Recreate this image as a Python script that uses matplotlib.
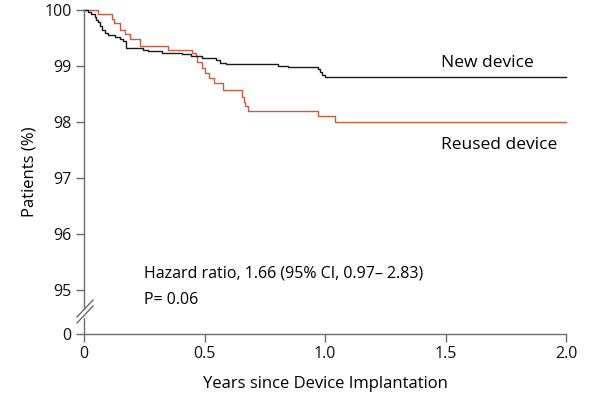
import matplotlib
matplotlib.use("Agg")
import matplotlib.pyplot as plt

# step times (years) and survival (%) after each step
new_t = [0, 0.017, 0.03, 0.046, 0.05, 0.058, 0.065, 0.075, 0.087, 0.10,
         0.129, 0.15, 0.16, 0.174, 0.245, 0.266, 0.324, 0.405, 0.446, 0.49,
         0.549, 0.566, 0.588, 0.806, 0.848, 0.972, 0.98, 0.988, 1.0, 2.0]
new_s = [100, 99.96, 99.93, 99.88, 99.83, 99.78, 99.72, 99.65, 99.59, 99.55,
         99.52, 99.48, 99.44, 99.33, 99.29, 99.26, 99.23, 99.21, 99.17, 99.14,
         99.10, 99.06, 99.04, 99.0, 98.98, 98.94, 98.89, 98.84, 98.81, 98.81]

reused_t = [0, 0.06, 0.115, 0.124, 0.149, 0.170, 0.191, 0.232, 0.35, 0.447,
            0.463, 0.47, 0.49, 0.502, 0.518, 0.54, 0.575, 0.654, 0.662,
            0.668, 0.68, 0.972, 1.041, 2.0]
reused_s = [100, 99.93, 99.84, 99.76, 99.65, 99.58, 99.48, 99.36, 99.29,
            99.23, 99.17, 99.08, 98.96, 98.87, 98.78, 98.70, 98.58, 98.45,
            98.36, 98.28, 98.20, 98.10, 98.00, 98.00]

x_ticks = [0, 0.5, 1.0, 1.5, 2.0]
x_labels = ["0", "0.5", "1.0", "1.5", "2.0"]
y_ticks = [95, 96, 97, 98, 99, 100]
ZERO_POS = 95 - 44 / 56  # where the "0" sits below the axis break

plt.rcParams['font.family'] = ['Open Sans', 'DejaVu Sans']
gray = '#6b6b6b'
red = '#c95a45'

fig = plt.figure(figsize=(6, 4), dpi=100)
ax = fig.add_axes([84 / 600, 1 - 334 / 400, 482 / 600, 324 / 400])

ax.step(new_t, new_s, where='post', color='#1a1a1a', lw=1, clip_on=False)
ax.step(reused_t, reused_s, where='post', color=red, lw=1, clip_on=False,
        zorder=1)

ax.set_xlim(0, 2.0)
ax.set_ylim(ZERO_POS, 100)
ax.set_xticks(x_ticks)
ax.set_xticklabels(x_labels)
ax.set_yticks([ZERO_POS] + y_ticks)
ax.set_yticklabels(["0"] + [str(v) for v in y_ticks])

for side in ['top', 'right']:
    ax.spines[side].set_visible(False)
for side in ['left', 'bottom']:
    ax.spines[side].set_color(gray)
    ax.spines[side].set_linewidth(1)
ax.tick_params(direction='out', length=6, width=1, color=gray,
               labelsize=11.5, labelcolor='#111111', pad=3)

ax.set_xlabel("Years since Device Implantation", fontsize=12, labelpad=10)
ax.set_ylabel("Patients (%)", fontsize=12, labelpad=5)

# axis break marks
px = 2.0 / 482
py = 1.0 / 56


def to_y(p):
    return 100 - (p - 10) * py


ax.plot([0, 0], [to_y(315.6), to_y(309.6)], color='white', lw=2.5,
        clip_on=False, zorder=5)
for y0 in (323, 317):
    ax.plot([-7 * px, 9 * px], [to_y(y0), to_y(y0 - 17)], color=gray,
            lw=1, clip_on=False, zorder=6)

ax.text(1.48, 98.98, "New device", fontsize=12.5)
ax.text(1.48, 97.52, "Reused device", fontsize=12.5)
ax.text(0.25, 95.22, "Hazard ratio, 1.66 (95% CI, 0.97\u2013 2.83)",
        fontsize=11.5)
ax.text(0.25, 94.75, "P= 0.06", fontsize=11.5)

fig.savefig("out.png", dpi=100)
